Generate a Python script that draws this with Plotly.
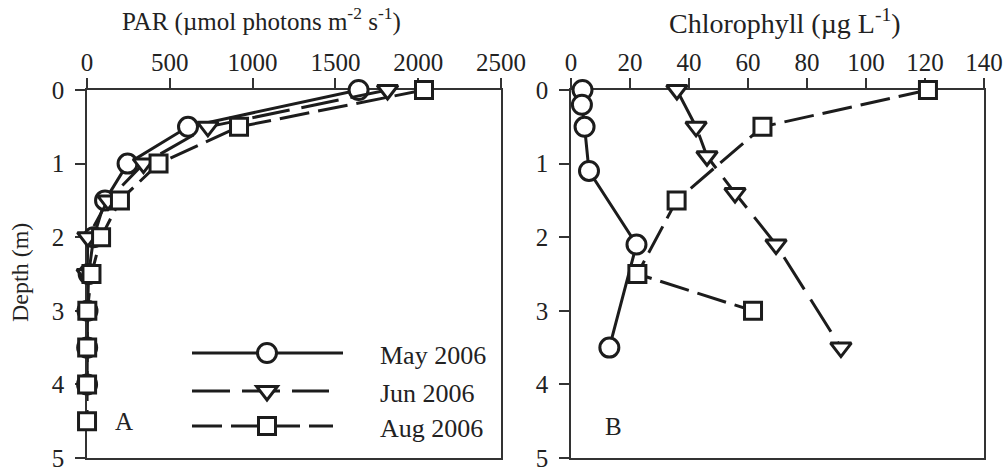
import plotly.graph_objects as go

# PAR profiles (µmol photons m-2 s-1) against depth (m)
par_depth_may = [0, 0.5, 1.0, 1.5, 2.0, 2.5, 3.0, 3.5, 4.0]
par_may = [1640, 610, 245, 109, 40, 10, 3, 1, 0.5]
par_depth_jun = [0, 0.5, 1.0, 1.5, 2.0, 2.5]
par_jun = [1815, 730, 341, 127, 5, 1]
par_depth_aug = [0, 0.5, 1.0, 1.5, 2.0, 2.5, 3.0, 3.5, 4.0, 4.5]
par_aug = [2035, 918, 432, 199, 85, 27, 2, 1, 0.5, 0.2]

# Chlorophyll profiles (µg L-1) against depth (m)
chl_depth_may = [0, 0.2, 0.5, 1.1, 2.1, 3.5]
chl_may = [3.9, 3.7, 4.6, 6.1, 22.2, 13.0]
chl_depth_jun = [0, 0.5, 0.9, 1.4, 2.1, 3.5]
chl_jun = [35.9, 42.4, 46.1, 55.6, 69.5, 91.5]
chl_depth_aug = [0, 0.5, 1.5, 2.5, 3.0]
chl_aug = [121, 64.9, 35.8, 22.5, 61.7]

months = ["May 2006", "Jun 2006", "Aug 2006"]
par_ticks = [0, 500, 1000, 1500, 2000, 2500]
chl_ticks = [0, 20, 40, 60, 80, 100, 120, 140]
depth_ticks = [0, 1, 2, 3, 4, 5]

W, H = 1005, 469
INK = "#1c1c1c"
FONT = "Liberation Serif"

styles = {
    "May 2006": dict(symbol="circle", size=19, dash="solid"),
    "Jun 2006": dict(symbol="triangle-down", size=18, dash="38px,12px"),
    "Aug 2006": dict(symbol="square", size=17, dash="30px,9px"),
}

fig = go.Figure()

panels = [
    ("x", "y", [(par_may, par_depth_may), (par_jun, par_depth_jun), (par_aug, par_depth_aug)]),
    ("x2", "y2", [(chl_may, chl_depth_may), (chl_jun, chl_depth_jun), (chl_aug, chl_depth_aug)]),
]
for xa, ya, series in panels:
    for name, (xs, ds) in zip(months, series):
        st = styles[name]
        fig.add_trace(go.Scatter(
            x=xs, y=ds, xaxis=xa, yaxis=ya, name=name, mode="lines+markers",
            showlegend=False, cliponaxis=False,
            line=dict(color=INK, width=3, dash=st["dash"]),
            marker=dict(symbol=st["symbol"], size=st["size"], color="white",
                        line=dict(color=INK, width=3)),
        ))

axis_common = dict(
    showline=True, linecolor="#333", linewidth=1.5, mirror=True,
    ticks="outside", ticklen=10, tickwidth=1.5, tickcolor="#333",
    showgrid=False, zeroline=False, layer="below traces", automargin=False,
    tickfont=dict(family=FONT, size=25, color="#222"),
    ticklabeloverflow="allow",
)

ydom = [(H - 458) / H, (H - 90) / H]
fig.update_layout(
    template="none",
    width=W, height=H,
    margin=dict(l=0, r=0, t=0, b=0, autoexpand=False),
    font=dict(family=FONT, color="#222"),
    paper_bgcolor="white", plot_bgcolor="white",
    showlegend=False,
    xaxis=dict(domain=[87 / W, 501 / W], side="top", range=[0, 2500],
               tickvals=par_ticks, anchor="y", ticklabelstandoff=-3, **axis_common),
    yaxis=dict(domain=ydom, range=[5, 0], tickvals=depth_ticks, anchor="x",
               ticklabelstandoff=6, **axis_common),
    xaxis2=dict(domain=[571 / W, 984 / W], side="top", range=[0, 140],
                tickvals=chl_ticks, anchor="y2", ticklabelstandoff=-3, **axis_common),
    yaxis2=dict(domain=ydom, range=[5, 0], tickvals=depth_ticks, anchor="x2",
                ticklabelstandoff=6, **axis_common),
)

def px(x, y):
    return x / W, 1 - y / H

def label(text, x, y, size, **kw):
    tx, ty = px(x, y)
    base = dict(x=tx, y=ty, xref="paper", yref="paper", showarrow=False,
                xanchor="center", yanchor="middle", text=text,
                font=dict(family=FONT, size=size, color="#222"))
    base.update(kw)
    return base

annotations = [
    label("PAR (µmol photons m<sup>-2</sup> s<sup>-1</sup>)", 261, 19, 25),
    label("Chlorophyll (µg L<sup>-1</sup>)", 785, 21, 28),
    label("Depth (m)", 20, 273, 24, textangle=-90),
    label("A", 124, 421, 25),
    label("B", 613, 426, 25),
]

# Hand-built legend: long keyed lines with the series marker in the middle
shapes = []
legend_rows = [("May 2006", 353, 343), ("Jun 2006", 391, 329), ("Aug 2006", 426, 333)]
for name, ly, x_end in legend_rows:
    st = styles[name]
    x0, y0 = px(192, ly)
    x1, _ = px(x_end, ly)
    shapes.append(dict(type="line", xref="paper", yref="paper", x0=x0, x1=x1, y0=y0, y1=y0,
                       line=dict(color=INK, width=3, dash=st["dash"])))
    mx, my = px(267, ly)
    common = dict(xref="paper", yref="paper", xsizemode="pixel", ysizemode="pixel",
                  xanchor=mx, yanchor=my, fillcolor="white",
                  line=dict(color=INK, width=3))
    if st["symbol"] == "circle":
        shapes.append(dict(type="circle", x0=-9.5, x1=9.5, y0=-9.5, y1=9.5, **common))
    elif st["symbol"] == "square":
        shapes.append(dict(type="rect", x0=-8.5, x1=8.5, y0=-8.5, y1=8.5, **common))
    else:
        shapes.append(dict(type="path", path="M-10.4,4.5 L10.4,4.5 L0,-9 Z", **common))
    annotations.append(label(name, 378, ly + 2, 26, xanchor="left"))

fig.update_layout(annotations=annotations, shapes=shapes)
fig.write_html("out.html")
